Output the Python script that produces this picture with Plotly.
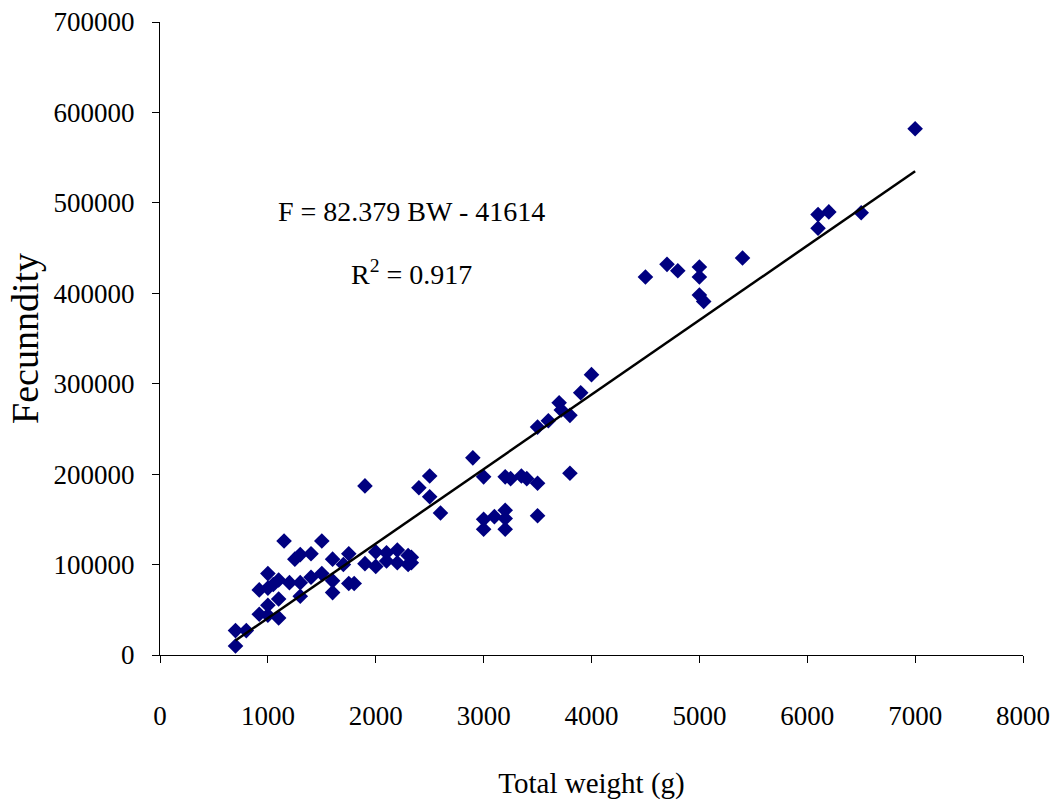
import plotly.graph_objects as go

# Total body weight (g) and fecundity of each fish
weight_g = [
    700, 700, 800, 920, 920, 1000, 1000, 1000, 1000, 1050,
    1100, 1100, 1100, 1150, 1200, 1250, 1300, 1300, 1300, 1400,
    1400, 1500, 1500, 1600, 1600, 1600, 1700, 1750, 1750, 1800,
    1900, 1900, 2000, 2000, 2100, 2100, 2200, 2200, 2300, 2300,
    2330, 2330, 2400, 2500, 2500, 2600, 2900, 3000, 3000, 3000,
    3100, 3200, 3200, 3200, 3200, 3250, 3350, 3400, 3500, 3500,
    3500, 3600, 3700, 3720, 3800, 3800, 3900, 4000, 4500, 4700,
    4800, 5000, 5000, 5000, 5040, 5400, 6100, 6200, 6100, 6500,
    7000,
]
fecundity = [
    10000, 27000, 27000, 45000, 72000, 90000, 74000, 55000, 44000, 78000,
    83000, 62000, 41000, 126000, 80000, 106000, 111000, 80000, 65000, 112000,
    86000, 126000, 90000, 106000, 82000, 69000, 100000, 112000, 79000, 79000,
    187000, 101000, 114000, 98000, 113000, 104000, 116000, 102000, 110000, 100000,
    108000, 102000, 185000, 198000, 175000, 157000, 218000, 197000, 150000, 139000,
    153000, 160000, 151000, 139000, 197000, 195000, 198000, 195000, 190000, 154000,
    252000, 259000, 279000, 271000, 265000, 201000, 290000, 310000, 418000, 432000,
    425000, 429000, 418000, 398000, 391000, 439000, 487000, 490000, 472000, 489000,
    582000,
]

# Linear regression F = a*BW + b
slope = 82.379
intercept = -41614
r_squared = 0.917
fit_x = [min(weight_g), max(weight_g)]
fit_y = [slope * v + intercept for v in fit_x]

x_ticks = [0, 1000, 2000, 3000, 4000, 5000, 6000, 7000, 8000]
y_ticks = [0, 100000, 200000, 300000, 400000, 500000, 600000, 700000]

font_family = "Liberation Serif"

fig = go.Figure()
fig.add_trace(go.Scatter(
    x=weight_g, y=fecundity, mode="markers",
    marker=dict(symbol="diamond", size=12, color="#000080",
                line=dict(width=0)),
    showlegend=False, hoverinfo="x+y",
))
fig.add_trace(go.Scatter(
    x=fit_x, y=fit_y, mode="lines",
    line=dict(color="black", width=2.5),
    showlegend=False, hoverinfo="skip",
))

fig.add_annotation(
    x=2327, y=490000, xref="x", yref="y", showarrow=False,
    text=f"F = {slope} BW - {abs(intercept)}",
    font=dict(family=font_family, size=28, color="black"),
)
fig.add_annotation(
    x=2327, y=423500, xref="x", yref="y", showarrow=False,
    text=f"R<sup>2</sup> = {r_squared}",
    font=dict(family=font_family, size=28, color="black"),
)

fig.update_layout(
    width=1062, height=812,
    margin=dict(l=160, r=39, t=22, b=157),
    paper_bgcolor="white", plot_bgcolor="white",
    font=dict(family=font_family, color="black"),
    showlegend=False,
)
fig.update_xaxes(
    range=[0, 8000], tickvals=x_ticks, ticktext=[str(v) for v in x_ticks],
    showgrid=False, zeroline=False,
    showline=True, linecolor="black", linewidth=1,
    ticks="outside", ticklen=7, tickcolor="black", tickwidth=1,
    tickfont=dict(family=font_family, size=27, color="black"),
    ticklabelstandoff=30,
    title=dict(text="Total weight (g)", standoff=42,
               font=dict(family=font_family, size=29, color="black")),
    automargin=False,
)
fig.update_yaxes(
    range=[0, 700000], tickvals=y_ticks, ticktext=[str(v) for v in y_ticks],
    showgrid=False, zeroline=False,
    showline=True, linecolor="black", linewidth=1,
    ticks="outside", ticklen=7, tickcolor="black", tickwidth=1,
    tickfont=dict(family=font_family, size=27, color="black"),
    ticklabelstandoff=12,
    title=dict(text="Fecunndity", standoff=3,
               font=dict(family=font_family, size=38, color="black")),
    automargin=False,
)

fig.write_html("out.html")
